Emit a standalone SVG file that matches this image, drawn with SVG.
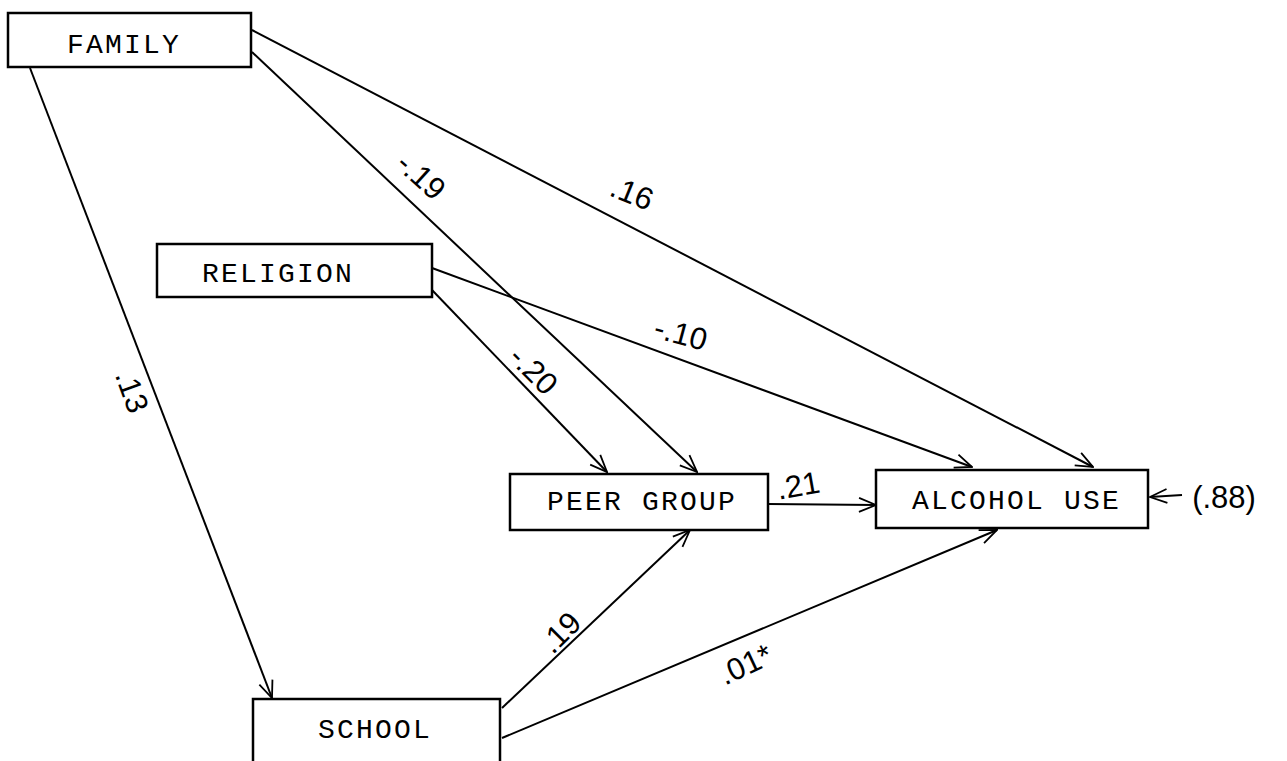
<svg xmlns="http://www.w3.org/2000/svg" width="1287" height="761" viewBox="0 0 1287 761">
<defs>
<marker id="arr" viewBox="0 0 20 20" refX="19" refY="10" markerWidth="20" markerHeight="20" markerUnits="userSpaceOnUse" orient="auto">
<polyline points="2,3 19,10 2,17" fill="none" stroke="#000" stroke-width="1.8"/>
</marker>
<style>
.box{fill:#fff;stroke:#000;stroke-width:2.5}
.lbl{font-family:"Liberation Mono",monospace;font-size:28px;letter-spacing:2.2px;fill:#000}
.edge{stroke:#000;stroke-width:2;fill:none;marker-end:url(#arr)}
.hw{font-family:"Liberation Sans",Arial,sans-serif;font-size:31px;fill:#000;text-anchor:middle}
</style>
</defs>
<rect width="1287" height="761" fill="#fff"/>
<g id="connectors">
<line class="edge" x1="30" y1="68" x2="272" y2="698"/>
<line class="edge" x1="252" y1="30" x2="1093" y2="467"/>
<line class="edge" x1="252" y1="52" x2="697" y2="472"/>
<line class="edge" x1="432" y1="268" x2="972" y2="467"/>
<line class="edge" x1="432" y1="290" x2="607" y2="472"/>
<line class="edge" x1="768" y1="504" x2="876" y2="505"/>
<line class="edge" x1="502" y1="708" x2="690" y2="530"/>
<line class="edge" x1="502" y1="738" x2="997" y2="530"/>
<line class="edge" x1="1182" y1="495" x2="1150" y2="497"/>
<text class="hw" transform="translate(122,395) rotate(70)">.13</text>
<text class="hw" transform="translate(414,184) rotate(42)">-.19</text>
<text class="hw" transform="translate(628,203) rotate(22)">.16</text>
<text class="hw" transform="translate(678,344) rotate(15)">-.10</text>
<text class="hw" transform="translate(526,378) rotate(45)">-.20</text>
<text class="hw" transform="translate(800,496) rotate(-10)">.21</text>
<text class="hw" transform="translate(568,640) rotate(-45)">.19</text>
<text class="hw" transform="translate(750,674) rotate(-25)">.01*</text>
<text class="hw" x="1224" y="508">(.88)</text>
</g>
<g id="family">
<rect class="box" x="8" y="13" width="243" height="54"/>
<text class="lbl" x="67" y="53">FAMILY</text>
</g>
<g id="religion">
<rect class="box" x="157" y="244" width="275" height="53"/>
<text class="lbl" x="202" y="282">RELIGION</text>
</g>
<g id="peer-group">
<rect class="box" x="510" y="474" width="258" height="56"/>
<text class="lbl" x="547" y="510">PEER GROUP</text>
</g>
<g id="alcohol-use">
<rect class="box" x="876" y="470" width="272" height="58"/>
<text class="lbl" x="912" y="509">ALCOHOL USE</text>
</g>
<g id="school">
<rect class="box" x="253" y="699" width="247" height="75"/>
<text class="lbl" x="318" y="738">SCHOOL</text>
</g>
</svg>
